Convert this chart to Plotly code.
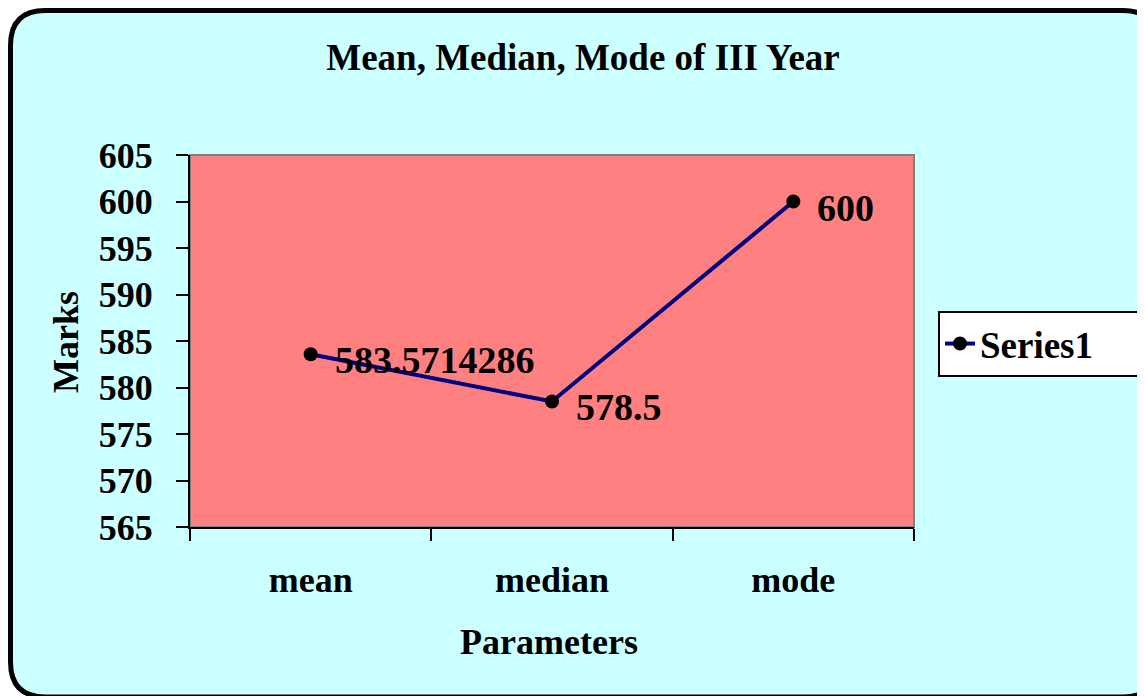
import plotly.graph_objects as go

categories = ["mean", "median", "mode"]
marks = [583.5714286, 578.5, 600]
labels = ["583.5714286", "578.5", "600"]
y_ticks = [565, 570, 575, 580, 585, 590, 595, 600, 605]

W, H = 1145, 696
OFF = 8  # page body margin
FONT = "Liberation Serif, Times New Roman, serif"

def px(x):
    return (x - OFF) / W

def py(y):
    return 1 - (y - OFF) / H

fig = go.Figure()
fig.add_trace(go.Scatter(
    x=categories, y=marks, mode="lines+markers",
    name="Series1",
    line=dict(color="#000080", width=4),
    marker=dict(color="black", size=14, symbol="circle"),
    cliponaxis=False,
))

annotations = []
for c, v, t in zip(categories, marks, labels):
    annotations.append(dict(
        x=c, y=v, xref="x", yref="y", text=t, showarrow=False,
        xanchor="left", yanchor="middle", xshift=22, yshift=-6,
        font=dict(family=FONT, size=38, color="black", weight="bold")))

# rounded outer chart area
x0, x1, y0, y1 = px(10.5), px(1158), py(10.5), py(697)
rx, ry = 35 / W, 35 / H
path = (f"M {x0+rx},{y0} L {x1-rx},{y0} Q {x1},{y0} {x1},{y0-ry} "
        f"L {x1},{y1+ry} Q {x1},{y1} {x1-rx},{y1} "
        f"L {x0+rx},{y1} Q {x0},{y1} {x0},{y1+ry} "
        f"L {x0},{y0-ry} Q {x0},{y0} {x0+rx},{y0} Z")
fig.add_shape(type="path", path=path, xref="paper", yref="paper",
              fillcolor="#CCFFFF", line=dict(color="black", width=5), layer="below")
fig.add_shape(type="rect", xref="x domain", yref="y domain", x0=0, x1=1, y0=0, y1=1,
              fillcolor="#FF8080", line=dict(color="#808080", width=2), layer="below")

annotations += [
    dict(text="Marks", x=px(66), y=py(342), xref="paper", yref="paper",
         textangle=-90, showarrow=False, xanchor="center", yanchor="middle",
         font=dict(family=FONT, size=36, color="black", weight="bold")),
    dict(text="Parameters", x=px(549), y=py(642), xref="paper", yref="paper",
         showarrow=False, xanchor="center", yanchor="middle",
         font=dict(family=FONT, size=36, color="black", weight="bold")),
]

fig.update_layout(
    width=W, height=H,
    template="none",
    margin=dict(l=0, r=0, t=0, b=0),
    paper_bgcolor="white",
    plot_bgcolor="rgba(0,0,0,0)",
    font=dict(family=FONT, size=36, color="black", weight="bold"),
    title=dict(text="Mean, Median, Mode of III Year", x=px(583), y=py(57),
               xanchor="center", yanchor="middle",
               font=dict(family=FONT, size=37, color="black", weight="bold")),
    xaxis=dict(domain=[px(190), px(914)], type="category", range=[-0.5, 2.5],
               showgrid=False, zeroline=False, showline=True, linecolor="black", linewidth=2,
               ticks="outside", tickson="boundaries", ticklen=12, tickwidth=2, tickcolor="black",
               tickfont=dict(family=FONT, size=36, color="black", weight="bold"),
               ticklabelstandoff=20, automargin=False),
    yaxis=dict(domain=[py(527), py(155)], range=[565, 605], tickvals=y_ticks,
               showgrid=False, zeroline=False, showline=True, linecolor="black", linewidth=2,
               ticks="outside", ticklen=12, tickwidth=2, tickcolor="black",
               tickfont=dict(family=FONT, size=36, color="black", weight="bold"),
               ticklabelstandoff=16, automargin=False),
    showlegend=True,
    legend=dict(x=px(938), y=py(311), xanchor="left", yanchor="top",
                orientation="h", entrywidth=165, entrywidthmode="pixels",
                bgcolor="white", bordercolor="black", borderwidth=2,
                font=dict(family=FONT, size=37, color="black", weight="bold")),
    annotations=annotations,
)

fig.write_html("out.html")
